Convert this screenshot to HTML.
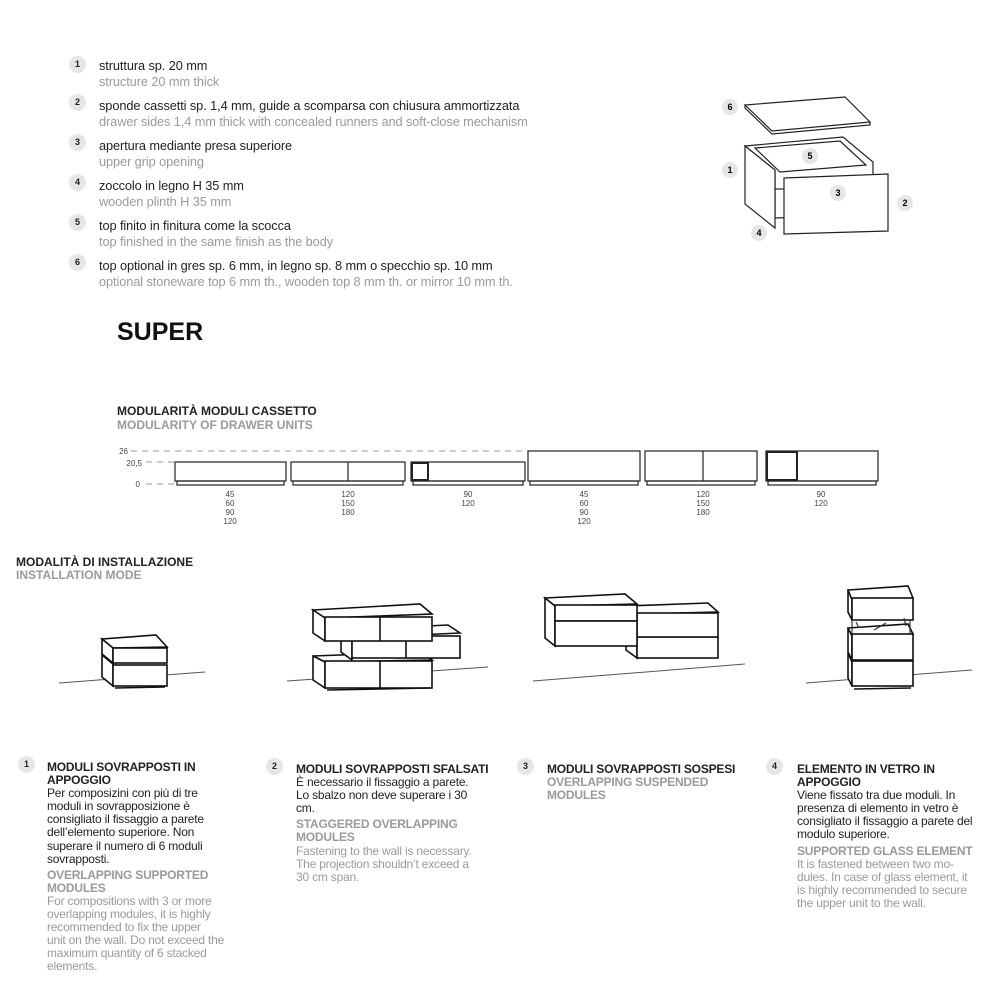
<!DOCTYPE html>
<html><head><meta charset="utf-8"><style>
body{margin:0;background:#fff;width:1000px;height:1000px;position:relative;overflow:hidden;font-family:"Liberation Sans",sans-serif;color:#222}
.a{position:absolute;white-space:nowrap}
.c{position:absolute;width:17px;height:17px;border-radius:50%;background:#e6e6e6;font-size:9px;font-weight:bold;text-align:center;line-height:17px;color:#222}
.it{font-size:12.8px;line-height:16px;letter-spacing:-0.1px}
.g{color:#9a9a9a}
.b{font-size:12px;line-height:13.1px;letter-spacing:-0.2px}
.b b{font-weight:bold}
.sm{font-size:8px;line-height:9px;text-align:center;color:#444;width:60px}
</style></head><body>
<div class="c" style="left:69px;top:56px">1</div>
<div class="a it" style="left:99px;top:58px">struttura sp. 20 mm<br><span class="g">structure 20 mm thick</span></div>
<div class="c" style="left:69px;top:94px">2</div>
<div class="a it" style="left:99px;top:98px">sponde cassetti sp. 1,4 mm, guide a scomparsa con chiusura ammortizzata<br><span class="g">drawer sides 1,4 mm thick with concealed runners and soft-close mechanism</span></div>
<div class="c" style="left:69px;top:134px">3</div>
<div class="a it" style="left:99px;top:138px">apertura mediante presa superiore<br><span class="g">upper grip opening</span></div>
<div class="c" style="left:69px;top:174px">4</div>
<div class="a it" style="left:99px;top:178px">zoccolo in legno H 35 mm<br><span class="g">wooden plinth H 35 mm</span></div>
<div class="c" style="left:69px;top:214px">5</div>
<div class="a it" style="left:99px;top:218px">top finito in finitura come la scocca<br><span class="g">top finished in the same finish as the body</span></div>
<div class="c" style="left:69px;top:254px">6</div>
<div class="a it" style="left:99px;top:258px">top optional in gres sp. 6 mm, in legno sp. 8 mm o specchio sp. 10 mm<br><span class="g">optional stoneware top 6 mm th., wooden top 8 mm th. or mirror 10 mm th.</span></div>

<div class="a" style="left:117px;top:318px;font-size:25px;font-weight:bold;color:#111">SUPER</div>
<div class="a" style="left:117px;top:404px;font-size:12px;font-weight:bold;line-height:14px">MODULARITÀ MODULI CASSETTO<br><span class="g">MODULARITY OF DRAWER UNITS</span></div>

<svg class="a" style="left:0;top:0" width="1000" height="1000">
<g stroke="#999" stroke-dasharray="6,5" stroke-width="1"><line x1="131" y1="451" x2="528" y2="451"/><line x1="146" y1="462" x2="175" y2="462"/><line x1="146" y1="484" x2="175" y2="484"/></g>
<g fill="none" stroke="#222" stroke-width="1.2">
<rect x="175" y="462" width="111" height="19"/><rect x="177" y="481" width="107" height="4"/>
<rect x="291" y="462" width="114" height="19"/><rect x="293" y="481" width="110" height="4"/><line x1="348" y1="462" x2="348" y2="481"/>
<rect x="411" y="462" width="114" height="19"/><rect x="413" y="481" width="110" height="4"/><rect x="412" y="463" width="16" height="17" stroke-width="2"/>
<rect x="528" y="451" width="112" height="30"/><rect x="530" y="481" width="108" height="4"/>
<rect x="645" y="451" width="112" height="30"/><rect x="647" y="481" width="108" height="4"/><line x1="703" y1="451" x2="703" y2="481"/>
<rect x="766" y="451" width="112" height="30"/><rect x="768" y="481" width="108" height="4"/><rect x="767" y="452" width="30" height="28" stroke-width="2"/>
</g>
<g font-size="8" fill="#444" font-family="Liberation Sans"><text x="128" y="454" text-anchor="end">26</text><text x="142" y="466" text-anchor="end">20,5</text><text x="140" y="487" text-anchor="end">0</text></g>

<!-- exploded -->
<g fill="#fff" stroke="#222" stroke-width="1.2">
<polygon points="745,105 845,97 870,122 772,131"/><polyline points="745,105 745,108 772,134 870,125 870,122" fill="none"/>
<polygon points="745,146 843,137 873,162 873,215 775,218 775,170"/>
<polygon points="745,146 775,170 775,228 745,204"/>
<polygon points="755,148 840,141 866,165 780,172" fill="#fff"/>
<polygon points="784,178 888,174 888,231 784,234"/>
<line x1="775" y1="189" x2="784" y2="189"/>
</g>
<g font-size="9" font-weight="bold" text-anchor="middle" font-family="Liberation Sans">
<circle cx="730" cy="107" r="8" fill="#e6e6e6"/><text x="730" y="110">6</text>
<circle cx="810" cy="156" r="8" fill="#e6e6e6"/><text x="810" y="159">5</text>
<circle cx="730" cy="170" r="8" fill="#e6e6e6"/><text x="730" y="173">1</text>
<circle cx="838" cy="193" r="8" fill="#e6e6e6"/><text x="838" y="196">3</text>
<circle cx="905" cy="203" r="8" fill="#e6e6e6"/><text x="905" y="206">2</text>
<circle cx="759" cy="233" r="8" fill="#e6e6e6"/><text x="759" y="236">4</text>
</g>

<!-- installation -->
<g stroke="#555" stroke-width="1"><line x1="59" y1="683" x2="205" y2="672"/><line x1="287" y1="681" x2="488" y2="667"/><line x1="533" y1="681" x2="745" y2="664"/><line x1="806" y1="683" x2="972" y2="670"/></g>
<g fill="#fff" stroke="#111" stroke-width="1.6">
<polygon points="102,639 156,635 167,647 113,648"/><polygon points="102,639 113,648 113,663 102,654"/><rect x="113" y="648" width="54" height="15"/>
<polygon points="102,655 113,664 113,686 102,677"/><rect x="113" y="665" width="54" height="21"/><line x1="115" y1="688" x2="165" y2="687"/>
<polygon points="313,656 420,652 432,660 325,662"/><polygon points="313,656 325,662 325,688 313,680"/><rect x="325" y="661" width="107" height="27"/><line x1="380" y1="661" x2="380" y2="688"/><line x1="327" y1="690" x2="430" y2="688"/>
<polygon points="341,630 448,625 460,633 352,638"/><polygon points="341,630 352,638 352,660 341,652"/><rect x="352" y="636" width="108" height="22"/><line x1="406" y1="636" x2="406" y2="658"/>
<polygon points="313,610 420,604 432,614 325,618"/><polygon points="313,610 325,618 325,641 313,633"/><rect x="325" y="617" width="107" height="24"/><line x1="380" y1="617" x2="380" y2="641"/>
<polygon points="626,629 637,636 637,658 626,650"/><rect x="637" y="637" width="81" height="21"/>
<polygon points="626,606 708,603 718,612 637,614"/><rect x="637" y="613" width="81" height="24"/>
<polygon points="545,598 625,594 637,604 555,606"/><polygon points="545,598 555,606 555,646 545,638"/><rect x="555" y="605" width="82" height="16"/><rect x="555" y="621" width="82" height="25"/>
<polygon points="848,590 908,586 913,598 852,600"/><polygon points="848,590 852,600 852,620 848,612"/><rect x="852" y="598" width="61" height="22"/>
<polygon points="848,628 852,636 852,660 848,652"/><polygon points="848,628 908,624 913,634 852,636"/><rect x="852" y="634" width="61" height="26"/>
<polygon points="848,653 852,662 852,686 848,678"/><rect x="852" y="661" width="61" height="25"/><line x1="854" y1="689" x2="911" y2="688"/>
</g>
<g stroke="#333" stroke-width="1.2"><line x1="852" y1="620" x2="852" y2="634"/><line x1="910" y1="620" x2="910" y2="634"/><line x1="874" y1="630" x2="886" y2="623"/><line x1="856" y1="622" x2="859" y2="628"/><line x1="904" y1="618" x2="906" y2="626"/></g>
</svg>

<div class="a sm" style="left:200px;top:490px">45<br>60<br>90<br>120</div>
<div class="a sm" style="left:318px;top:490px">120<br>150<br>180</div>
<div class="a sm" style="left:438px;top:490px">90<br>120</div>
<div class="a sm" style="left:554px;top:490px">45<br>60<br>90<br>120</div>
<div class="a sm" style="left:673px;top:490px">120<br>150<br>180</div>
<div class="a sm" style="left:791px;top:490px">90<br>120</div>

<div class="a" style="left:16px;top:556px;font-size:12px;font-weight:bold;line-height:13px">MODALITÀ DI INSTALLAZIONE<br><span class="g">INSTALLATION MODE</span></div>

<div class="c" style="left:18px;top:756px">1</div>
<div class="a b" style="left:47px;top:761px"><b>MODULI SOVRAPPOSTI IN<br>APPOGGIO</b><br>Per composizini con più di tre<br>moduli in sovrapposizione è<br>consigliato il fissaggio a parete<br>dell’elemento superiore. Non<br>superare il numero di 6 moduli<br>sovrapposti.<div style="height:3px"></div><span class="g"><b>OVERLAPPING SUPPORTED<br>MODULES</b><br>For compositions with 3 or more<br>overlapping modules, it is highly<br>recommended to fix the upper<br>unit on the wall. Do not exceed the<br>maximum quantity of 6 stacked<br>elements.</span></div>
<div class="c" style="left:266px;top:758px">2</div>
<div class="a b" style="left:296px;top:763px"><b>MODULI SOVRAPPOSTI SFALSATI</b><br>È necessario il fissaggio a parete.<br>Lo sbalzo non deve superare i 30<br>cm.<div style="height:3px"></div><span class="g"><b>STAGGERED OVERLAPPING<br>MODULES</b><br>Fastening to the wall is necessary.<br>The projection shouldn’t exceed a<br>30 cm span.</span></div>
<div class="c" style="left:517px;top:758px">3</div>
<div class="a b" style="left:547px;top:763px"><b>MODULI SOVRAPPOSTI SOSPESI</b><br><span class="g"><b>OVERLAPPING SUSPENDED<br>MODULES</b></span></div>
<div class="c" style="left:766px;top:758px">4</div>
<div class="a b" style="left:797px;top:763px"><b>ELEMENTO IN VETRO IN<br>APPOGGIO</b><br>Viene fissato tra due moduli. In<br>presenza di elemento in vetro è<br>consigliato il fissaggio a parete del<br>modulo superiore.<div style="height:3px"></div><span class="g"><b>SUPPORTED GLASS ELEMENT</b><br>It is fastened between two mo-<br>dules. In case of glass element, it<br>is highly recommended to secure<br>the upper unit to the wall.</span></div>
</body></html>
